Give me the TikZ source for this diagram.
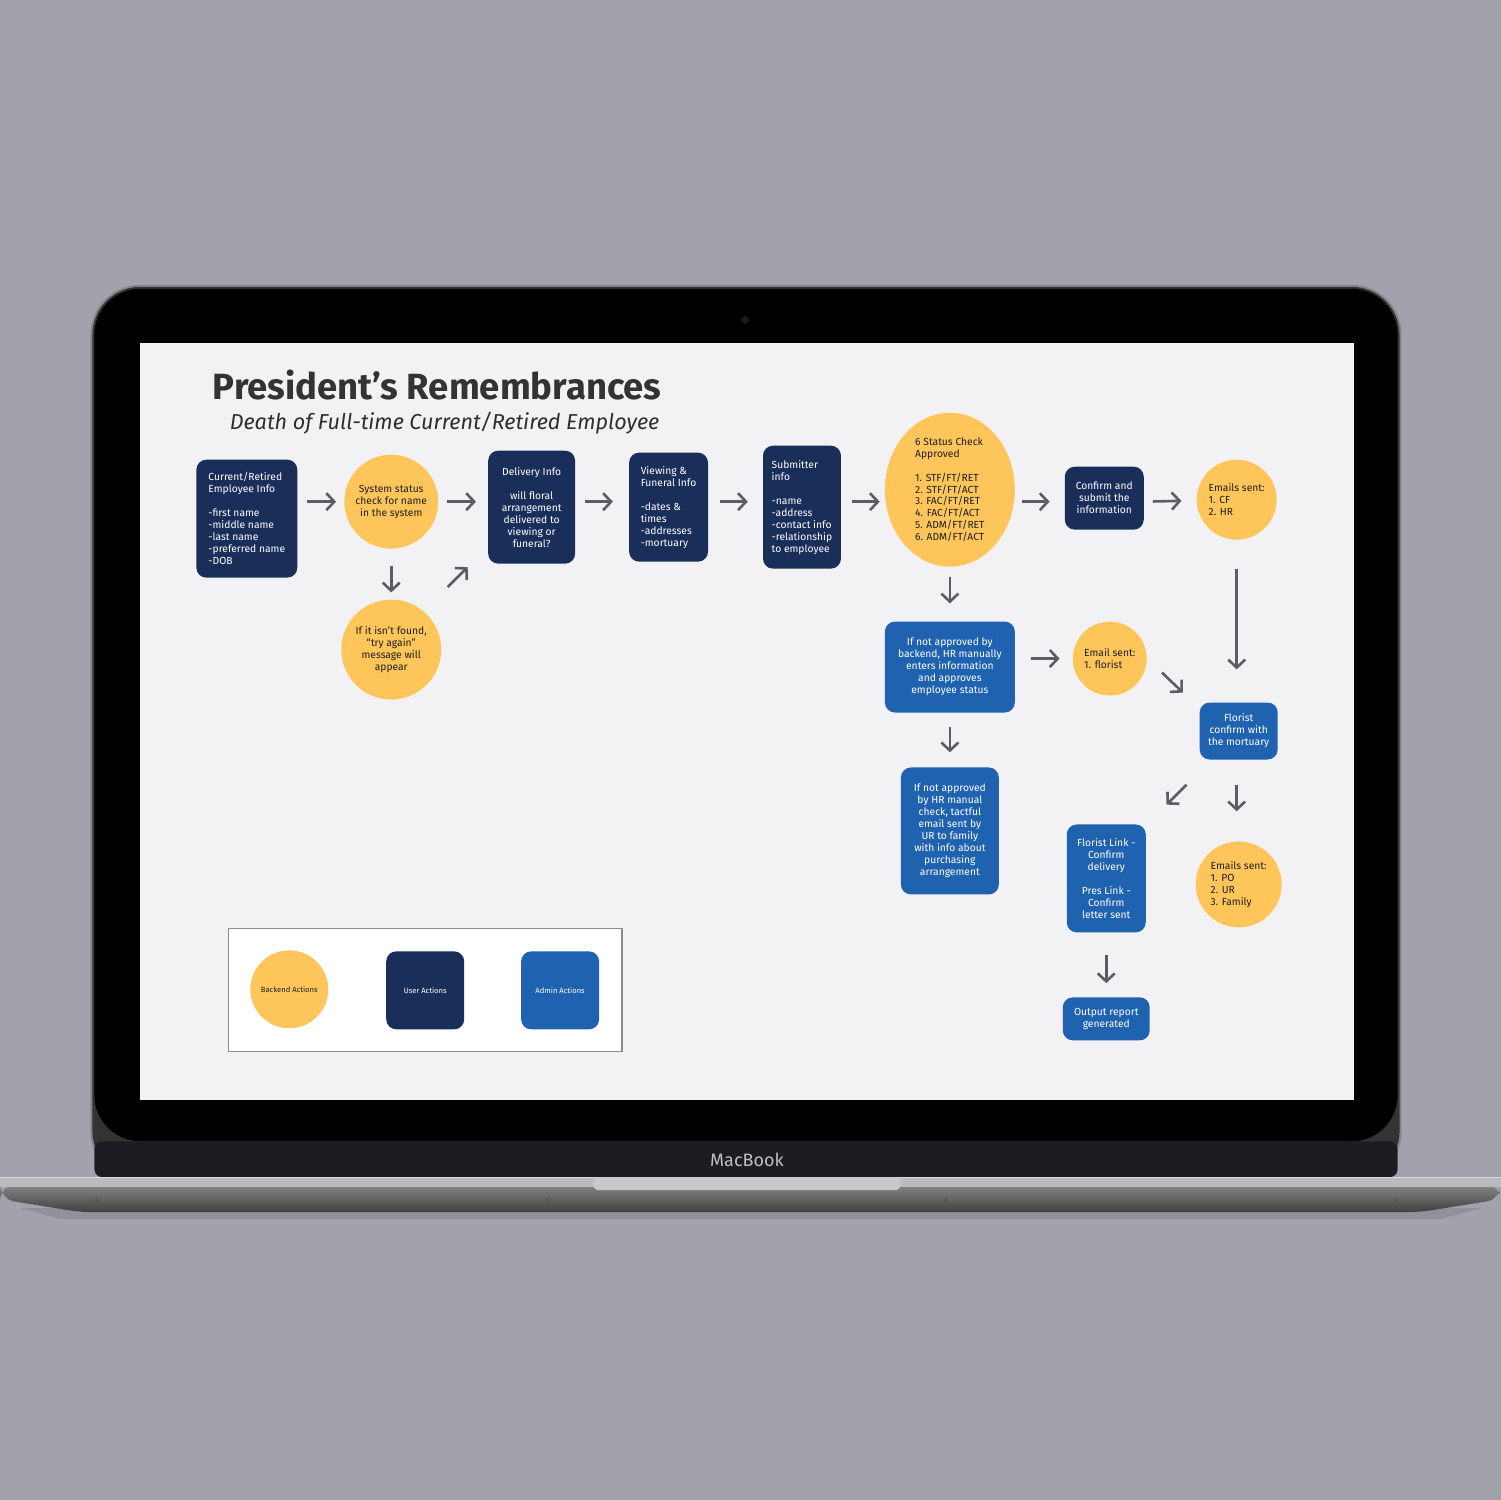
\documentclass[tikz,border=0pt]{standalone}
\usepackage{fontspec}
\setmainfont{Fira Sans}
\usetikzlibrary{positioning,arrows.meta,shapes.geometric}
\definecolor{backdrop}{HTML}{A2A2AC}
\definecolor{lidrim}{HTML}{85858B}
\definecolor{screenbg}{HTML}{F2F2F5}
\definecolor{usernavy}{HTML}{1A2E5A}
\definecolor{adminblue}{HTML}{1F62B0}
\definecolor{backyellow}{HTML}{FEC65A}
\definecolor{arrowgray}{HTML}{5D5D61}
\definecolor{inktext}{HTML}{1E1E1E}
\definecolor{titlegray}{HTML}{333333}
\definecolor{chinfill}{HTML}{1C1D22}
\definecolor{basetop}{HTML}{BABABF}
\definecolor{notchfill}{HTML}{C8C8CD}

\begin{document}
\begin{tikzpicture}[x=1pt,y=-1pt,>={Straight Barb[length=8pt,width=17pt]},
  every node/.style={font=\fontsize{10.3}{12}\selectfont},
  user/.style={fill=usernavy,rounded corners=10pt,text=white,inner sep=0pt},
  admin/.style={fill=adminblue,rounded corners=10pt,text=white,inner sep=0pt},
  backend/.style={circle,fill=backyellow,text=inktext,inner sep=0pt},
  flow/.style={->,draw=arrowgray,line width=2.6pt,shorten <=10pt,shorten >=12pt}]
  % backdrop and laptop
  \fill[backdrop] (0,0) rectangle (1501,1501);
  \fill[lidrim,rounded corners=50pt] (90,1182) -- (90,285) -- (1402,285) -- (1402,1182) -- cycle;
  \fill[black!80,rounded corners=48pt] (92,1180) -- (92,287) -- (1400,287) -- (1400,1180) -- cycle;
  \fill[black,rounded corners=46pt] (94,1142) -- (94,289) -- (1398,289) -- (1398,1142) -- cycle;
  \fill[chinfill,rounded corners=8pt] (94,1142) -- (94,1178) -- (1398,1178) -- (1398,1142) -- cycle;
  \fill[black!90!white] (745,320) circle (4);
  \fill[screenbg] (140,343) rectangle (1354,1101);
  \node[text=black!25,font=\fontsize{18}{20}\selectfont] (brand) at (747,1161) {MacBook};
  \fill[black,opacity=0.1] (20,1209) -- (1481,1209) -- (1440,1220) -- (60,1220) -- cycle;
  \shade[top color=black!48,bottom color=black!75,rounded corners=14pt]
    (0,1186) -- (1501,1186) -- (1501,1200) -- (1420,1213) -- (80,1213) -- (0,1200) -- cycle;
  \fill[basetop] (0,1178) rectangle (1501,1188);
  \draw[white!85!black,line width=1pt] (0,1178.5) -- (1501,1178.5);
  \fill[notchfill,rounded corners=6pt] (593,1178) -- (593,1191) -- (901,1191) -- (901,1178) -- cycle;
  \foreach \x in {96,547,946,1396} {\fill[black!70] (\x,1201) circle (1.6);}

  % title
  \node[anchor=base west,text=titlegray,font=\fontsize{36.5}{40}\selectfont\bfseries] (title) at (209,400) {President’s Remembrances};
  \node[anchor=base west,text=titlegray!90!black,font=\fontsize{21.6}{24}\selectfont\itshape] (subtitle) at (226,430) {Death of Full-time Current/Retired Employee};

  % first row
  \node[user,align=left,minimum width=101pt,minimum height=118pt] (emp) at (246.5,519)
    {Current/Retired\\Employee Info\\[12pt]-first name\\-middle name\\-last name\\-preferred name\\-DOB};
  \node[backend,align=center,minimum size=94pt] (sys) at (391,502) {System status\\check for name\\in the system};
  \node[backend,align=center,minimum size=100pt] (notfound) at (391,650) {If it isn’t found,\\“try again”\\message will\\appear};
  \node[user,align=center,minimum width=87pt,minimum height=113pt] (deliv) at (531.5,507.5)
    {Delivery Info\\[12pt]will floral\\arrangement\\delivered to\\viewing or\\funeral?};
  \node[user,align=left,minimum width=79pt,minimum height=109pt] (view) at (668.5,507.5)
    {Viewing \&\\Funeral Info\\[12pt]-dates \&\\times\\-addresses\\-mortuary};
  \node[user,align=left,minimum width=78pt,minimum height=123pt] (subm) at (802,507.5)
    {Submitter\\info\\[12pt]-name\\-address\\-contact info\\-relationship\\to employee};
  \node[ellipse,fill=backyellow,text=inktext,inner sep=0pt,align=left,minimum width=130pt,minimum height=154pt] (status) at (950,490)
    {6 Status Check\\Approved\\[12pt]1. STF/FT/RET\\2. STF/FT/ACT\\3. FAC/FT/RET\\4. FAC/FT/ACT\\5. ADM/FT/RET\\6. ADM/FT/ACT};
  \node[user,align=center,minimum width=79pt,minimum height=63pt] (confirm) at (1104.5,498.5) {Confirm and\\submit the\\information};
  \node[backend,align=left,minimum size=80pt] (mails1) at (1237,500) {Emails sent:\\1. CF\\2. HR};

  % admin branch
  \node[admin,align=center,minimum width=130pt,minimum height=91pt] (hrman) at (950,667.5)
    {If not approved by\\backend, HR manually\\enters information\\and approves\\employee status};
  \node[backend,align=left,minimum size=74pt] (florist) at (1110,659) {Email sent:\\1. florist};
  \node[admin,align=center,minimum width=78pt,minimum height=57pt] (mortuary) at (1239,731.5) {Florist\\confirm with\\the mortuary};
  \node[admin,align=center,minimum width=98pt,minimum height=127pt] (hrcheck) at (950,831.5)
    {If not approved\\by HR manual\\check, tactful\\email sent by\\UR to family\\with info about\\purchasing\\arrangement};
  \node[admin,align=center,minimum width=79pt,minimum height=108pt] (links) at (1106.5,879)
    {Florist Link -\\Confirm\\delivery\\[12pt]Pres Link -\\Confirm\\letter sent};
  \node[backend,align=left,minimum size=86pt] (mails2) at (1239,885) {Emails sent:\\1. PO\\2. UR\\3. Family};
  \node[admin,align=center,minimum width=87pt,minimum height=43pt] (report) at (1106.5,1019.5) {Output report\\generated};

  % arrows
  \draw[flow,shorten >=8pt] (emp.east |- sys) -- (sys);
  \draw[flow,shorten <=9pt] (sys) -- (sys -| deliv.west);
  \draw[flow,shorten >=16pt] (deliv.east |- sys) -- (sys -| view.west);
  \draw[flow,shorten <=12pt,shorten >=15pt] (view.east |- sys) -- (sys -| subm.west);
  \draw[flow,shorten <=11pt,shorten >=5pt] (subm.east |- sys) -- (sys -| status.west);
  \draw[flow,shorten <=7pt,shorten >=15pt] (status.east |- sys) -- (sys -| confirm.west);
  \draw[flow,shorten <=9pt,shorten >=15pt] (confirm.east |- sys) -- (mails1);
  \draw[flow,shorten <=17pt,shorten >=7pt] (sys) -- (notfound);
  \draw[flow,shorten <=0pt,shorten >=0pt] (notfound.north east) ++(21,-27) -- ++(20,-20);
  \draw[flow,shorten <=10pt,shorten >=18pt] (status) -- (hrman);
  \draw[flow,shorten <=16pt,shorten >=13pt] (hrman.east |- florist) -- (florist);
  \draw[flow,shorten <=0pt,shorten >=0pt] (florist.east) ++(15,14) -- ++(21,20);
  \draw[flow,shorten <=29pt,shorten >=33pt] (mails1) -- (mails1 |- mortuary.north);
  \draw[flow,shorten <=14pt,shorten >=15pt] (hrman) -- (hrcheck);
  \draw[flow,shorten <=0pt,shorten >=0pt] (mortuary.south west) ++(-13,25) -- ++(-20,20);
  \draw[flow,shorten <=25pt,shorten >=30pt] (mortuary.south -| mails1) -- (mails1 |- mails2.north);
  \draw[flow,shorten <=22pt,shorten >=14pt] (links) -- (report);

  % legend
  \draw[fill=white,draw=black!45,line width=1.2pt] (228,929) rectangle (622,1052);
  \node[backend,minimum size=78pt,font=\fontsize{7.6}{9}\selectfont] (keyback) at (289,990) {Backend Actions};
  \node[user,minimum size=78pt,font=\fontsize{7.6}{9}\selectfont] (keyuser) at (425,991) {User Actions};
  \node[admin,minimum size=78pt,font=\fontsize{7.6}{9}\selectfont] (keyadmin) at (560,991) {Admin Actions};
\end{tikzpicture}
\end{document}
